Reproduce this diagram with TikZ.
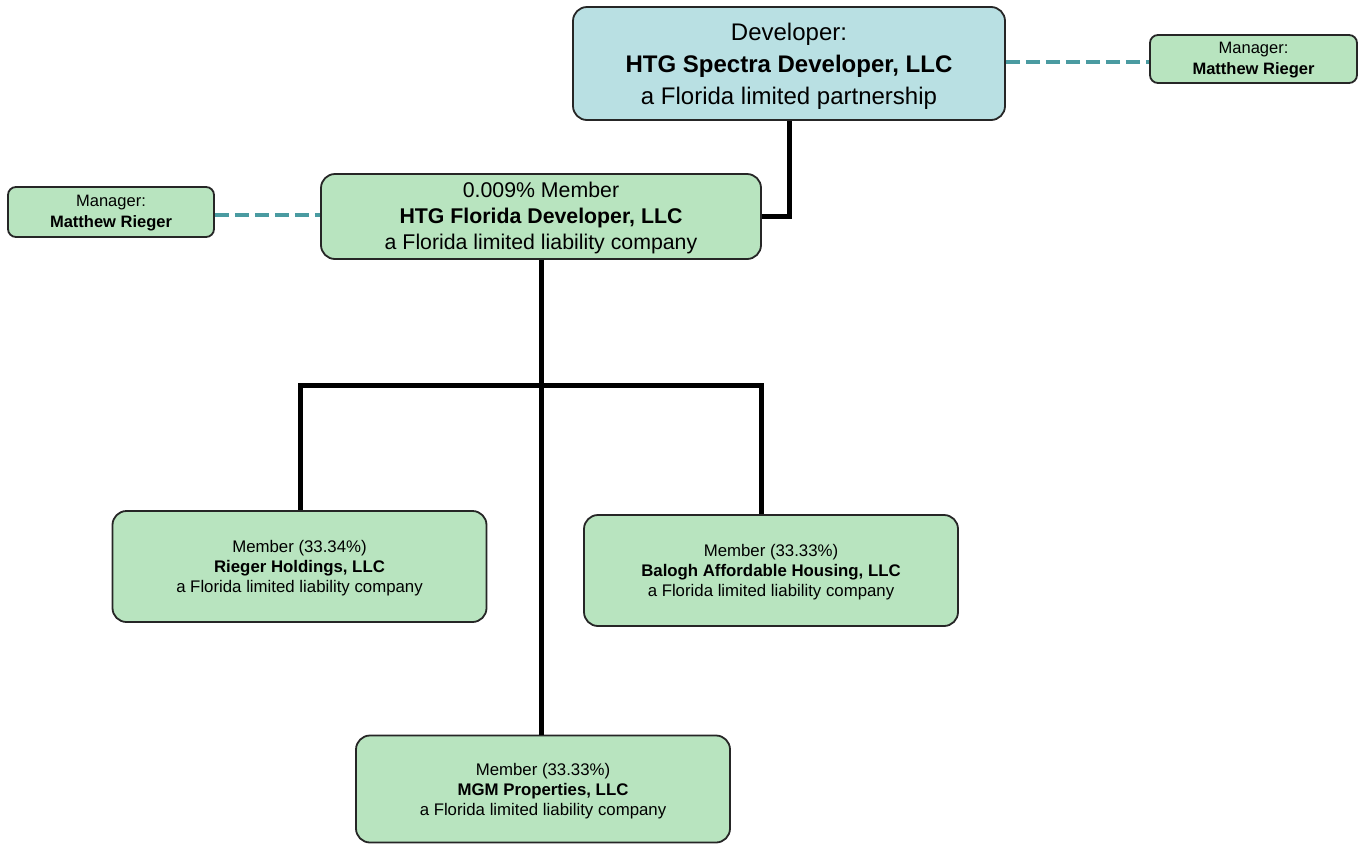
\documentclass[tikz,border=0pt]{standalone}
\usepackage{fontspec}
\setmainfont{Liberation Sans}
\newcommand{\toppad}[1]{\rule{0pt}{#1}}
\begin{document}
\begin{tikzpicture}[x=1pt,y=-1pt,
  box/.style={draw=black!85, line width=1.8pt, rounded corners=14pt, fill=boxgreen, align=center, inner sep=0pt},
  mgrbox/.style={box, rounded corners=8pt, font=\fontsize{16.5}{21}\selectfont},
  memberbox/.style={box, font=\fontsize{16.8}{20}\selectfont, minimum width=374pt, minimum height=111pt},
  link/.style={line width=5pt, black},
  dashlink/.style={line width=4.5pt, teal0, dash pattern=on 14pt off 6pt}]
\definecolor{boxgreen}{HTML}{B8E4BF}
\definecolor{boxblue}{HTML}{B9E0E3}
\definecolor{teal0}{HTML}{4A9BA1}
\useasboundingbox (0,0) rectangle (1361,844);

\node[box, fill=boxblue, minimum width=432pt, minimum height=113pt, font=\fontsize{24}{32}\selectfont] (dev) at (789,63.5)
  {\toppad{22pt}Developer:\\\textbf{HTG Spectra Developer, LLC}\\a Florida limited partnership};
\node[mgrbox, minimum width=207pt, minimum height=48pt] (mgrR) at (1253.5,59)
  {\toppad{14pt}Manager:\\\textbf{Matthew Rieger}};
\node[box, minimum width=440pt, minimum height=85pt, font=\fontsize{21.3}{26}\selectfont] (hfd) at (541,216.5)
  {\toppad{18pt}0.009\% Member\\\textbf{HTG Florida Developer, LLC}\\a Florida limited liability company};
\node[mgrbox, minimum width=206pt, minimum height=50pt] (mgrL) at (111,212)
  {\toppad{14pt}Manager:\\\textbf{Matthew Rieger}};
\node[memberbox] (rieger) at (299.5,566.5)
  {\toppad{16pt}Member (33.34\%)\\\textbf{Rieger Holdings, LLC}\\a Florida limited liability company};
\node[memberbox] (balogh) at (771,570.5)
  {\toppad{16pt}Member (33.33\%)\\\textbf{Balogh Affordable Housing, LLC}\\a Florida limited liability company};
\node[memberbox, minimum height=107pt] (mgm) at (543,789)
  {\toppad{16pt}Member (33.33\%)\\\textbf{MGM Properties, LLC}\\a Florida limited liability company};

\coordinate (barL) at (300,385);
\coordinate (barR) at (761,385);

\draw[dashlink] (dev.east |- mgrR.west) ++(0,3) -- (mgrR.west |- 0,62);
\draw[dashlink] (mgrL.east |- 0,215) -- (hfd.west |- 0,215);
\draw[link] (dev.south) |- (hfd.east);
\draw[link] (hfd.south) -- (hfd.south |- mgm.north);
\draw[link, line cap=rect] (barL) -- (barR);
\draw[link] (barL) -- (barL |- rieger.north);
\draw[link] (barR) -- (barR |- balogh.north);
\end{tikzpicture}
\end{document}
